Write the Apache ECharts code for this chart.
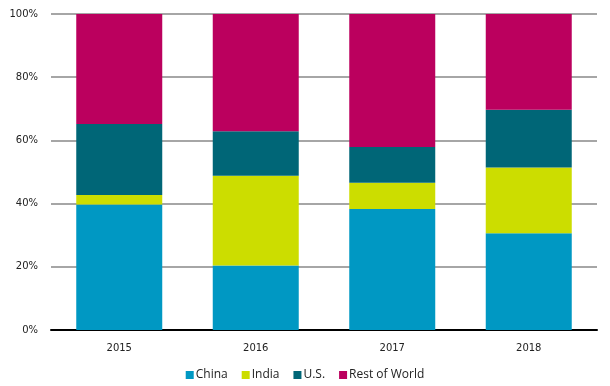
<!DOCTYPE html>
<html><head><meta charset="utf-8">
<script src="https://cdn.jsdelivr.net/npm/echarts@6/dist/echarts.min.js"></script>
<style>html,body{margin:0;padding:0;background:#fff}#c{width:610px;height:386px}</style>
</head><body><div id="c"></div>
<script>
const categories = ['2015', '2016', '2017', '2018'];
const china = [39.7, 20.4, 38.3, 30.6];
const india = [3.0, 28.4, 8.3, 20.8];
const us = [22.5, 14.1, 11.3, 18.3];
const rest = [34.8, 37.1, 42.1, 30.3];
const seriesNames = ['China', 'India', 'U.S.', 'Rest of World'];
const colors = ['#0098C3', '#CCDD00', '#006677', '#BB005E'];

const chart = echarts.init(document.getElementById('c'));
const data = [china, india, us, rest];
chart.setOption({
  animation: false,
  color: colors,
  grid: {left: 51, right: 13, top: 14, bottom: 56},
  legend: {
    top: 369, left: 'center', padding: 0,
    itemWidth: 8, itemHeight: 8, itemGap: 14,
    icon: 'rect',
    textStyle: {fontFamily: 'Open Sans', fontSize: 12, color: '#222', padding: [0, 0, 0, -3]},
    data: seriesNames
  },
  xAxis: {
    type: 'category', data: categories,
    axisLine: {lineStyle: {color: '#000', width: 2}},
    axisTick: {show: false},
    axisLabel: {fontFamily: 'DejaVu Sans', fontSize: 10, color: '#222', margin: 13}
  },
  yAxis: {
    type: 'value', min: 0, max: 100, interval: 20,
    axisLine: {show: false}, axisTick: {show: false},
    axisLabel: {formatter: '{value}%', fontFamily: 'DejaVu Sans', fontSize: 10, color: '#222', margin: 13},
    splitLine: {lineStyle: {color: '#a6a6a6', width: 2}}
  },
  series: seriesNames.map((n, i) => ({
    name: n, type: 'bar', stack: 's', data: data[i], barWidth: '63%'
  }))
});
</script></body></html>
